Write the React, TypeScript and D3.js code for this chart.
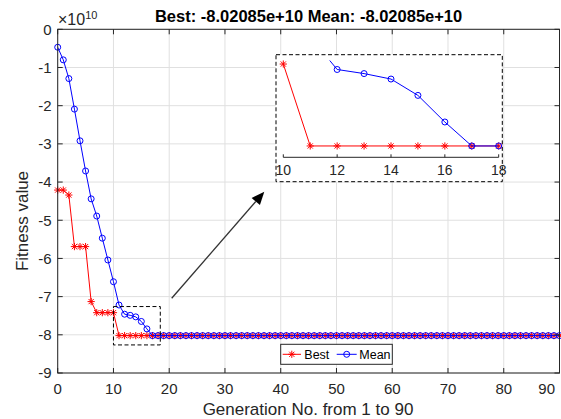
import React from 'react';
import * as d3 from 'd3';

const titleText = 'Best: -8.02085e+10 Mean: -8.02085e+10';
const xLabelText = 'Generation No. from 1 to 90';
const yLabelText = 'Fitness value';
const xTicks = [0, 10, 20, 30, 40, 50, 60, 70, 80, 90];
const yTicks = [0, -1, -2, -3, -4, -5, -6, -7, -8, -9];
const insetTicks = [10, 12, 14, 16, 18];

// fitness values in units of 1e10, generation index 0..90
const bestValues = [
  -4.21, -4.21, -4.34, -5.69, -5.69, -5.69, -7.13, -7.42, -7.42, -7.42,
  -7.42, -8.02085, -8.02085, -8.02085, -8.02085, -8.02085, -8.02085, -8.02085, -8.02085, -8.02085,
  -8.02085, -8.02085, -8.02085, -8.02085, -8.02085, -8.02085, -8.02085, -8.02085, -8.02085, -8.02085,
  -8.02085, -8.02085, -8.02085, -8.02085, -8.02085, -8.02085, -8.02085, -8.02085, -8.02085, -8.02085,
  -8.02085, -8.02085, -8.02085, -8.02085, -8.02085, -8.02085, -8.02085, -8.02085, -8.02085, -8.02085,
  -8.02085, -8.02085, -8.02085, -8.02085, -8.02085, -8.02085, -8.02085, -8.02085, -8.02085, -8.02085,
  -8.02085, -8.02085, -8.02085, -8.02085, -8.02085, -8.02085, -8.02085, -8.02085, -8.02085, -8.02085,
  -8.02085, -8.02085, -8.02085, -8.02085, -8.02085, -8.02085, -8.02085, -8.02085, -8.02085, -8.02085,
  -8.02085, -8.02085, -8.02085, -8.02085, -8.02085, -8.02085, -8.02085, -8.02085, -8.02085, -8.02085,
  -8.02085,
];
const meanValues = [
  -0.47, -0.80, -1.29, -2.09, -2.92, -3.71, -4.44, -4.89, -5.47, -6.04,
  -6.61, -7.22, -7.46, -7.49, -7.53, -7.65, -7.845, -8.02085, -8.02085, -8.02085,
  -8.02085, -8.02085, -8.02085, -8.02085, -8.02085, -8.02085, -8.02085, -8.02085, -8.02085, -8.02085,
  -8.02085, -8.02085, -8.02085, -8.02085, -8.02085, -8.02085, -8.02085, -8.02085, -8.02085, -8.02085,
  -8.02085, -8.02085, -8.02085, -8.02085, -8.02085, -8.02085, -8.02085, -8.02085, -8.02085, -8.02085,
  -8.02085, -8.02085, -8.02085, -8.02085, -8.02085, -8.02085, -8.02085, -8.02085, -8.02085, -8.02085,
  -8.02085, -8.02085, -8.02085, -8.02085, -8.02085, -8.02085, -8.02085, -8.02085, -8.02085, -8.02085,
  -8.02085, -8.02085, -8.02085, -8.02085, -8.02085, -8.02085, -8.02085, -8.02085, -8.02085, -8.02085,
  -8.02085, -8.02085, -8.02085, -8.02085, -8.02085, -8.02085, -8.02085, -8.02085, -8.02085, -8.02085,
  -8.02085,
];
const generations = bestValues.map((_, i) => i);

const FONT = '"Liberation Sans", Arial, Helvetica, sans-serif';
const AX = '#262626';
const GRID = '#e0e0e0';
const RED = '#ff0000';
const BLUE = '#0000ff';

function starPath(cx: number, cy: number, r: number) {
  const d = r * 0.72;
  return `M${cx - r},${cy}h${2 * r}M${cx},${cy - r}v${2 * r}M${cx - d},${cy - d}l${2 * d},${2 * d}M${cx - d},${cy + d}l${2 * d},${-2 * d}`;
}

export default function App() {
  const W = 561, H = 419;
  const L = 57.7, R = 559.5, T = 29.3, B = 373;
  const x = d3.scaleLinear().domain([0, 90]).range([L, R]);
  const y = d3.scaleLinear().domain([-9, 0]).range([B, T]);

  const line = d3.line<number>().x((_, i) => x(generations[i])).y((v) => y(v));

  // inset
  const iL = 283.3, iR = 498.7, iT = 60.5, iB = 157.3;
  const ix = d3.scaleLinear().domain([10, 18]).range([iL, iR]);
  const iy = d3.scaleLinear().domain([-8.104, -7.394]).range([iB, iT]);
  const iline = d3.line<number>().x((_, i) => ix(generations[i])).y((v) => iy(v));
  const inDomain = (i: number) => generations[i] >= 10 && generations[i] <= 18;
  const inYDomain = (v: number) => v >= -8.104 && v <= -7.394;

  const boxX0 = x(10), boxX1 = x(18.4), boxY0 = y(-7.26), boxY1 = y(-8.265);

  const arrowStart = [171.7, 298.3];
  const arrowTip = [264.3, 191.7];
  const ang = Math.atan2(arrowTip[1] - arrowStart[1], arrowTip[0] - arrowStart[0]);
  const headLen = 13, headW = 5.5;
  const bx = arrowTip[0] - headLen * Math.cos(ang), by = arrowTip[1] - headLen * Math.sin(ang);
  const px = -Math.sin(ang) * headW, py = Math.cos(ang) * headW;

  return (
    <svg width={W} height={H} style={{ position: 'absolute', left: 0, top: 0, background: '#fff' }} fontFamily={FONT}>
      <defs>
        <clipPath id="mainClip"><rect x={L} y={T} width={R - L} height={B - T} /></clipPath>
        <clipPath id="insetClip"><rect x={iL} y={iT} width={iR - iL} height={iB - iT} /></clipPath>
      </defs>
      <rect x={0} y={0} width={W} height={H} fill="#fff" />
      {/* grid */}
      {xTicks.map((t) => (
        <line key={'gx' + t} x1={x(t)} x2={x(t)} y1={T} y2={B} stroke={GRID} strokeWidth={1} />
      ))}
      {yTicks.map((t) => (
        <line key={'gy' + t} x1={L} x2={R} y1={y(t)} y2={y(t)} stroke={GRID} strokeWidth={1} />
      ))}
      {/* series */}
      <path d={line(bestValues) || ''} fill="none" stroke={RED} strokeWidth={1} clipPath="url(#mainClip)" />
      {bestValues.map((v, i) => (
        <path key={'bs' + i} d={starPath(x(generations[i]), y(v), 3.6)} stroke={RED} strokeWidth={1} fill="none" />
      ))}
      <path d={line(meanValues) || ''} fill="none" stroke={BLUE} strokeWidth={1} clipPath="url(#mainClip)" />
      {meanValues.map((v, i) => (
        <circle key={'mc' + i} cx={x(generations[i])} cy={y(v)} r={3} stroke={BLUE} strokeWidth={1} fill="none" />
      ))}
      {/* axes box */}
      <rect x={L} y={T} width={R - L} height={B - T} fill="none" stroke={AX} strokeWidth={1} />
      {xTicks.map((t) => (
        <g key={'tx' + t}>
          <line x1={x(t)} x2={x(t)} y1={B} y2={B - 5} stroke={AX} />
          <line x1={x(t)} x2={x(t)} y1={T} y2={T + 5} stroke={AX} />
          <text x={t === 90 ? 555 : x(t)} y={394} textAnchor={t === 90 ? 'end' : 'middle'} fontSize={15} fill={AX}>{t}</text>
        </g>
      ))}
      {yTicks.map((t) => (
        <g key={'ty' + t}>
          <line x1={L} x2={L + 5} y1={y(t)} y2={y(t)} stroke={AX} />
          <line x1={R} x2={R - 5} y1={y(t)} y2={y(t)} stroke={AX} />
          <text x={51.5} y={y(t)} dy="0.36em" textAnchor="end" fontSize={15} fill={AX}>{t}</text>
        </g>
      ))}
      <text x={58} y={25} fontSize={16} fill={AX}>
        ×10<tspan dy={-6.5} fontSize={11}>10</tspan>
      </text>
      <text x={(L + R) / 2} y={21.7} textAnchor="middle" fontSize={16.5} fontWeight="bold" fill="#000">{titleText}</text>
      <text x={308} y={415} textAnchor="middle" fontSize={17} fill={AX}>{xLabelText}</text>
      <text transform="translate(27.5,221) rotate(-90)" textAnchor="middle" fontSize={17} fill={AX}>{yLabelText}</text>

      {/* zoom box */}
      <rect x={boxX0} y={boxY0} width={boxX1 - boxX0} height={boxY1 - boxY0} fill="none" stroke="#000" strokeWidth={1} strokeDasharray="4,2.5" />
      {/* arrow */}
      <line x1={arrowStart[0]} y1={arrowStart[1]} x2={bx} y2={by} stroke="#333" strokeWidth={1.3} />
      <path d={`M${arrowTip[0]},${arrowTip[1]}L${bx + px},${by + py}L${bx - px},${by - py}Z`} fill="#000" />

      {/* legend */}
      <rect x={280.7} y={344.3} width={111.6} height={20} fill="#fff" stroke={AX} strokeWidth={1} />
      <line x1={282.7} x2={301} y1={354.3} y2={354.3} stroke={RED} strokeWidth={1} />
      <path d={starPath(291.8, 354.3, 3.6)} stroke={RED} strokeWidth={1} fill="none" />
      <text x={304.3} y={358.6} fontSize={12.5} fill="#000">Best</text>
      <line x1={336.7} x2={356.7} y1={354.3} y2={354.3} stroke={BLUE} strokeWidth={1} />
      <circle cx={346.7} cy={354.3} r={3} stroke={BLUE} strokeWidth={1} fill="none" />
      <text x={359.3} y={358.6} fontSize={12.5} fill="#000">Mean</text>

      {/* inset */}
      <rect x={276} y={54.7} width={226.3} height={127} fill="#fff" stroke="#000" strokeWidth={1} strokeDasharray="4,2.5" />
      <path d={iline(bestValues) || ''} fill="none" stroke={RED} strokeWidth={1} clipPath="url(#insetClip)" />
      {bestValues.map((v, i) => inDomain(i) && inYDomain(v) ? (
        <path key={'ibs' + i} d={starPath(ix(generations[i]), iy(v), 3.6)} stroke={RED} strokeWidth={1} fill="none" />
      ) : null)}
      <path d={iline(meanValues) || ''} fill="none" stroke={BLUE} strokeWidth={1} clipPath="url(#insetClip)" />
      {meanValues.map((v, i) => inDomain(i) && inYDomain(v) ? (
        <circle key={'imc' + i} cx={ix(generations[i])} cy={iy(v)} r={3} stroke={BLUE} strokeWidth={1} fill="none" />
      ) : null)}
      <line x1={iL} x2={iR} y1={iB} y2={iB} stroke={AX} strokeWidth={1} />
      {insetTicks.map((t) => (
        <g key={'it' + t}>
          <line x1={ix(t)} x2={ix(t)} y1={iB} y2={iB - 3} stroke={AX} />
          <text x={ix(t)} y={175} textAnchor="middle" fontSize={14} fill={AX}>{t}</text>
        </g>
      ))}
    </svg>
  );
}
